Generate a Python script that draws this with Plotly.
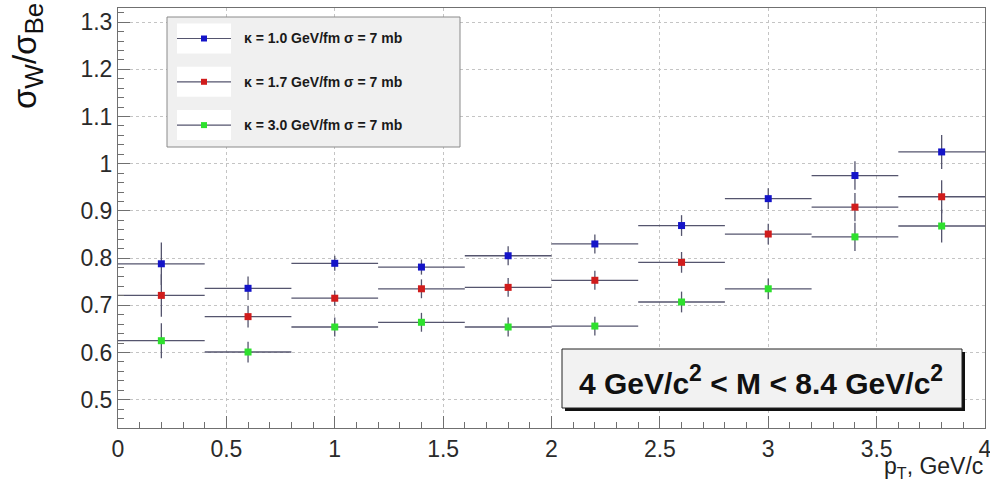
import plotly.graph_objects as go

# Bin centres in pT (GeV/c) and half bin width
pt = [0.2, 0.6, 1.0, 1.4, 1.8, 2.2, 2.6, 3.0, 3.4, 3.8]
half_width = [0.2] * 10

# sigma_W / sigma_Be ratio for three string tensions (sigma = 7 mb)
ratio_k10 = [0.788, 0.736, 0.789, 0.781, 0.805, 0.830, 0.869, 0.926, 0.975, 1.025]
ratio_k17 = [0.721, 0.676, 0.715, 0.735, 0.738, 0.753, 0.791, 0.851, 0.908, 0.930]
ratio_k30 = [0.625, 0.601, 0.654, 0.664, 0.654, 0.656, 0.707, 0.735, 0.845, 0.868]

err_k10 = [0.045, 0.025, 0.016, 0.016, 0.020, 0.020, 0.022, 0.022, 0.030, 0.036]
err_k17 = [0.045, 0.023, 0.016, 0.020, 0.020, 0.020, 0.022, 0.022, 0.030, 0.035]
err_k30 = [0.037, 0.022, 0.020, 0.020, 0.020, 0.020, 0.022, 0.022, 0.030, 0.035]

labels = ["κ = 1.0 GeV/fm σ = 7 mb", "κ = 1.7 GeV/fm σ = 7 mb", "κ = 3.0 GeV/fm σ = 7 mb"]
colors = ["#1414c8", "#d01c1c", "#2ee02e"]

W, H = 990, 482
L, R, T, B = 118, 5, 8, 54
PW, PH = W - L - R, H - T - B


def px(x):
    return (x - L) / PW


def py(y):
    return (H - B - y) / PH


FONT = "Liberation Sans, Arial, sans-serif"
ERR_COLOR = "#55556e"

fig = go.Figure()
for vals, errs, col, lab in zip([ratio_k10, ratio_k17, ratio_k30],
                                [err_k10, err_k17, err_k30], colors, labels):
    fig.add_trace(go.Scatter(
        x=pt, y=vals, mode="markers", name=lab, showlegend=False,
        marker=dict(symbol="square", size=7, color=col),
        error_x=dict(type="data", array=half_width, width=0, thickness=1.3, color=ERR_COLOR),
        error_y=dict(type="data", array=errs, width=0, thickness=1.3, color=ERR_COLOR),
    ))

shapes = []
annotations = []

# Legend panel
shapes.append(dict(type="rect", xref="paper", yref="paper",
                   x0=px(167), x1=px(460), y0=py(147), y1=py(17),
                   fillcolor="#f0f0f0", line=dict(color="#8a8a8a", width=1), layer="above"))
for i, (lab, col) in enumerate(zip(labels, colors)):
    yc = 38.5 + i * 43.3
    shapes.append(dict(type="rect", xref="paper", yref="paper",
                       x0=px(177), x1=px(231), y0=py(yc + 15), y1=py(yc - 15),
                       fillcolor="white", line=dict(width=0), layer="above"))
    shapes.append(dict(type="line", xref="paper", yref="paper",
                       x0=px(177), x1=px(231), y0=py(yc), y1=py(yc),
                       line=dict(color=ERR_COLOR, width=1.2), layer="above"))
    shapes.append(dict(type="rect", xref="paper", yref="paper",
                       x0=px(201), x1=px(207), y0=py(yc + 3), y1=py(yc - 3),
                       fillcolor=col, line=dict(width=0), layer="above"))
    annotations.append(dict(xref="paper", yref="paper", x=px(242), y=py(yc),
                            xanchor="left", yanchor="middle", showarrow=False,
                            text="<b>" + lab + "</b>",
                            font=dict(family=FONT, size=14, color="#1a1a1a")))

# Mass window label box with drop shadow
shapes.append(dict(type="rect", xref="paper", yref="paper",
                   x0=px(565), x1=px(965), y0=py(411), y1=py(352),
                   fillcolor="#111111", line=dict(width=0), layer="above"))
shapes.append(dict(type="rect", xref="paper", yref="paper",
                   x0=px(562), x1=px(962), y0=py(408), y1=py(349),
                   fillcolor="#f2f2f2", line=dict(color="#222222", width=1), layer="above"))
SUP2 = "<sup><span style='font-size:23px'>2</span></sup>"
annotations.append(dict(xref="paper", yref="paper", x=px(761), y=py(380),
                        xanchor="center", yanchor="middle", showarrow=False,
                        text="<b>4 GeV/c" + SUP2 + " &lt; M &lt; 8.4 GeV/c" + SUP2 + "</b>",
                        font=dict(family=FONT, size=30, color="#111111")))

# Axis titles
annotations.append(dict(xref="paper", yref="paper", x=px(27), y=py(56),
                        xanchor="center", yanchor="middle", showarrow=False, textangle=-90,
                        text="σ<sub><span style='font-size:26px'>W</span></sub>/σ"
                             "<sub><span style='font-size:26px'>Be</span></sub>",
                        font=dict(family=FONT, size=33, color="#111111")))
annotations.append(dict(xref="paper", yref="paper", x=1.0, y=py(467),
                        xanchor="right", yanchor="middle", showarrow=False,
                        text="p<sub>T</sub>, GeV/c",
                        font=dict(family=FONT, size=23, color="#222222")))

axis_common = dict(
    showline=True, linecolor="#707070", linewidth=1, mirror=True,
    showgrid=True, gridcolor="#c4c4c4", griddash="dot", gridwidth=1,
    zeroline=False, ticks="inside", ticklen=12, tickcolor="#707070",
    tickfont=dict(family=FONT, size=23, color="#2a2a2a"),
    ticklabeloverflow="allow", automargin=False,
)

fig.update_layout(
    width=W, height=H,
    margin=dict(l=L, r=R, t=T, b=B, autoexpand=False),
    paper_bgcolor="white", plot_bgcolor="white",
    xaxis=dict(range=[0, 4], dtick=0.5, tick0=0,
               minor=dict(dtick=0.1, ticks="inside", ticklen=6, tickcolor="#707070", showgrid=False),
               **axis_common),
    yaxis=dict(range=[0.44, 1.33], dtick=0.1, tick0=0.5,
               minor=dict(dtick=0.02, ticks="inside", ticklen=6, tickcolor="#707070", showgrid=False),
               **axis_common),
    shapes=shapes,
    annotations=annotations,
    showlegend=False,
)

fig.write_html("out.html")
